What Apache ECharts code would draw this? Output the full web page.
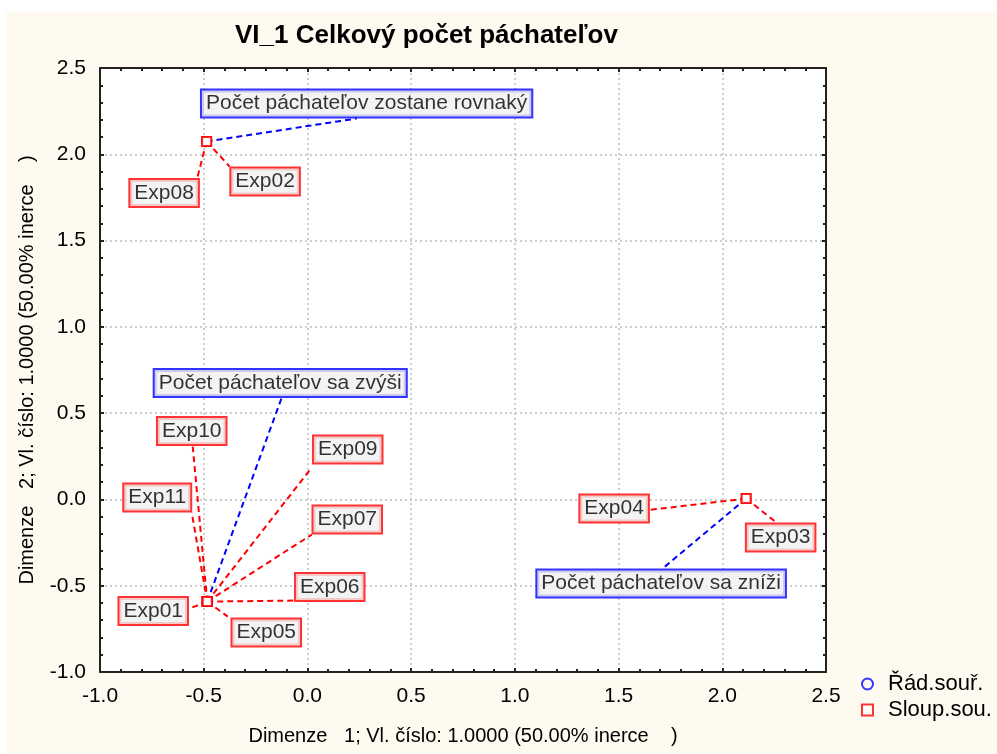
<!DOCTYPE html>
<html>
<head>
<meta charset="utf-8">
<script src="https://cdn.jsdelivr.net/npm/echarts@6/dist/echarts.min.js"></script>
<style>
html,body{margin:0;padding:0;background:#ffffff;}
#main{width:997px;height:754px;}
</style>
</head>
<body>
<div id="main"></div>
<script>
// ---- data ----
const chartTitle = 'VI_1 Celkový počet páchateľov';
const xAxisName = 'Dimenze   1; Vl. číslo: 1.0000 (50.00% inerce    )';
const yAxisName = 'Dimenze   2; Vl. číslo: 1.0000 (50.00% inerce    )';
const legendNames = ['Řád.souř.', 'Sloup.sou.'];

const rowNames = ['Počet páchateľov sa zvýši', 'Počet páchateľov zostane rovnaký', 'Počet páchateľov sa zníži'];
const rowDim1 = [-0.483, -0.486, 2.115];
const rowDim2 = [-0.592, 2.074, 0.005];

const colNames = ['Exp01', 'Exp02', 'Exp03', 'Exp04', 'Exp05', 'Exp06', 'Exp07', 'Exp08', 'Exp09', 'Exp10', 'Exp11'];
const colDim1 = [-0.483, -0.486, 2.115, 2.115, -0.483, -0.483, -0.483, -0.486, -0.483, -0.483, -0.483];
const colDim2 = [-0.592, 2.074, 0.005, 0.005, -0.592, -0.592, -0.592, 2.074, -0.592, -0.592, -0.592];

const axisMin = -1.0, axisMax = 2.5, axisStep = 0.5;

// ---- layout (pixel offsets of label boxes / leader-line ends from their points) ----
const rowLabelOffsets = [[73, -218.5], [160, -38], [-85, 85]];
const colLabelOffsets = [[-54, 9.5], [58.5, 40], [34.5, 39], [-132, 10], [59, 31], [122.5, -14.5],
  [140, -82], [-42.5, 51.5], [140.5, -152], [-15.5, -170.5], [-50, -104]];
const rowLeaderEnds = [[74.5, -204], [150, -23], [-83, 69.5]];
const colLeaderEnds = [[-15.5, 6], [23, 25], [31, 24.5], [-98, 11.5], [20.5, 15], [86.5, -1],
  [104.5, -67], [-9, 35], [104.5, -134], [-14.5, -155], [-15.5, -89]];

const FONT = '"Liberation Sans", Arial, sans-serif';
const chart = echarts.init(document.getElementById('main'), null, {renderer: 'canvas'});

function labelStyle(color) {
  return {
    show: true,
    position: 'inside',
    color: '#000',
    fontFamily: FONT,
    fontSize: 21,
    lineHeight: 23,
    backgroundColor: '#F0F0F0',
    borderColor: color,
    borderWidth: 2,
    padding: [2, 4, 1, 4],
    formatter: p => p.name
  };
}
function leaderSeries(xs, ys, ends, color) {
  return {
    type: 'custom',
    z: 2,
    silent: true,
    data: xs.map((x, i) => [x, ys[i]]),
    renderItem: (params, api) => {
      const p = api.coord([api.value(0), api.value(1)]);
      const e = ends[params.dataIndex];
      return {
        type: 'line',
        shape: {x1: p[0], y1: p[1], x2: p[0] + e[0], y2: p[1] + e[1]},
        style: {stroke: color, lineWidth: 2, lineDash: [6, 4], fill: null}
      };
    }
  };
}

const frameAxis = {
  min: axisMin, max: axisMax, interval: axisStep,
  axisLine: {show: true, onZero: false, lineStyle: {color: '#222', width: 2}},
  axisTick: {show: true, inside: true, length: 4, lineStyle: {color: '#222', width: 2}},
  minorTick: {show: true, splitNumber: 5, length: 3, lineStyle: {color: '#222', width: 2}},
  splitLine: {show: false},
  axisLabel: {show: false}
};

const option = {
  backgroundColor: '#ffffff',
  animation: false,
  graphic: [{
    type: 'rect', z: -10, silent: true,
    shape: {x: 6, y: 12, width: 991, height: 742},
    style: {fill: '#FFFAF0'}
  }, {
    type: 'rect', z: -9, silent: true,
    shape: {x: 100, y: 68, width: 726, height: 604},
    style: {fill: '#ffffff'}
  }],
  title: {
    text: chartTitle,
    left: 230, top: 18,
    textStyle: {fontFamily: FONT, fontSize: 26, fontWeight: 'bold', color: '#000'}
  },
  legend: {
    orient: 'vertical',
    left: 856, top: 668,
    itemWidth: 11, itemHeight: 11, itemGap: 4,
    data: legendNames,
    textStyle: {fontFamily: FONT, fontSize: 22, color: '#000', padding: [0, 0, 0, 10]}
  },
  grid: {left: 100, right: 171, top: 68, bottom: 82},
  xAxis: [Object.assign({}, frameAxis, {
    type: 'value', position: 'bottom',
    name: xAxisName, nameLocation: 'middle', nameGap: 54,
    nameTextStyle: {fontFamily: FONT, fontSize: 20, color: '#000'},
    splitLine: {show: true, lineStyle: {color: '#BDBDBD', type: [2, 3], width: 1.5}},
    axisLabel: {show: true, margin: 14, fontFamily: FONT, fontSize: 21, color: '#000', formatter: v => v.toFixed(1)}
  }), Object.assign({}, frameAxis, {type: 'value', position: 'top'})],
  yAxis: [Object.assign({}, frameAxis, {
    type: 'value', position: 'left',
    name: yAxisName, nameLocation: 'middle', nameGap: 63,
    nameTextStyle: {fontFamily: FONT, fontSize: 20, color: '#000'},
    splitLine: {show: true, lineStyle: {color: '#BDBDBD', type: [2, 3], width: 1.5}},
    axisLabel: {show: true, margin: 14, fontFamily: FONT, fontSize: 21, color: '#000', formatter: v => v.toFixed(1)}
  }), Object.assign({}, frameAxis, {type: 'value', position: 'right'})],
  series: [
    leaderSeries(rowDim1, rowDim2, rowLeaderEnds, '#0000FF'),
    leaderSeries(colDim1, colDim2, colLeaderEnds, '#FF0000'),
    {
      name: legendNames[0],
      type: 'scatter',
      symbol: 'circle',
      symbolSize: 8,
      z: 3,
      itemStyle: {color: 'rgba(0,0,0,0)', borderColor: '#0000FF', borderWidth: 2},
      data: rowNames.map((n, i) => ({name: n, value: [rowDim1[i], rowDim2[i]]})),
      label: labelStyle('#0000FF'),
      labelLayout: p => ({dx: rowLabelOffsets[p.dataIndex][0], dy: rowLabelOffsets[p.dataIndex][1]})
    }, {
      name: legendNames[1],
      type: 'scatter',
      symbol: 'rect',
      symbolSize: 9,
      z: 4,
      itemStyle: {color: '#ffffff', borderColor: '#FF0000', borderWidth: 2},
      data: colNames.map((n, i) => ({name: n, value: [colDim1[i], colDim2[i]]})),
      label: labelStyle('#FF0000'),
      labelLayout: p => ({dx: colLabelOffsets[p.dataIndex][0], dy: colLabelOffsets[p.dataIndex][1]})
    }
  ]
};
chart.setOption(option);
</script>
</body>
</html>
